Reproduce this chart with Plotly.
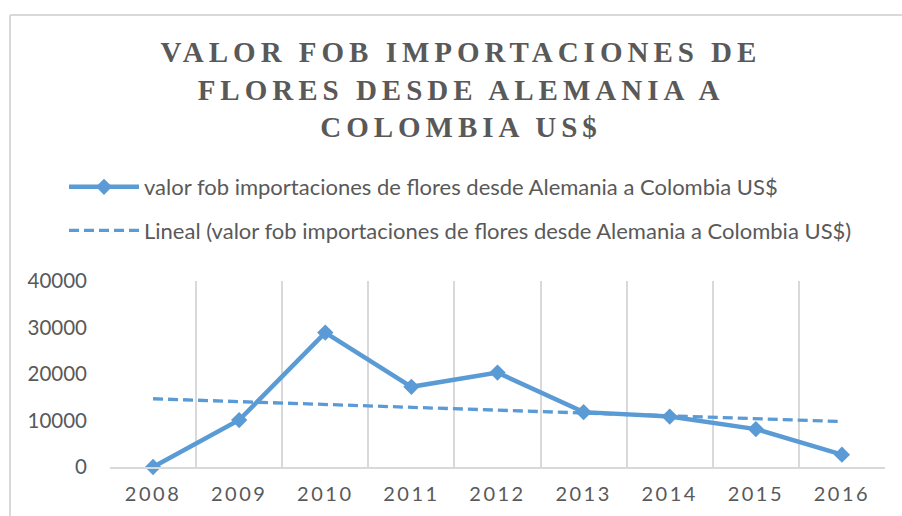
import numpy as np
import plotly.graph_objects as go

years = ["2008", "2009", "2010", "2011", "2012", "2013", "2014", "2015", "2016"]
valores = [0, 10100, 28900, 17250, 20300, 11800, 10850, 8150, 2650]
y_ticks = [0, 10000, 20000, 30000, 40000]

serie_name = "valor fob importaciones de flores desde Alemania a Colombia US$"
trend_name = "Lineal (valor fob importaciones de flores desde Alemania a Colombia US$)"
title_text = "VALOR FOB IMPORTACIONES DE<br>FLORES DESDE ALEMANIA A<br>COLOMBIA US$"

idx = np.arange(len(valores))
coef = np.polyfit(idx, valores, 1)
trend = np.polyval(coef, idx)

BLUE = "#5B9BD5"
GRAY = "#595959"
GRID = "#D9D9D9"

# plot area in pixels
L, R, T, B = 110, 17, 281, 49
W, H = 902, 516
pw, ph = W - L - R, H - T - B

def px_x(x):
    return (x - L) / pw

def px_y(y):
    return (H - B - y) / ph

fig = go.Figure()
fig.add_trace(go.Scatter(
    x=years, y=valores, name=serie_name, mode="lines+markers",
    line=dict(color=BLUE, width=4.5),
    marker=dict(symbol="diamond", size=12.5, color=BLUE),
    legendgroup="a", cliponaxis=False,
))
fig.add_trace(go.Scatter(
    x=years, y=trend, name=trend_name, mode="lines",
    line=dict(color=BLUE, width=3.3, dash="10px,5px"),
    legendgroup="b",
))

fig.update_layout(
    width=W, height=H,
    margin=dict(l=L, r=R, t=T, b=B),
    paper_bgcolor="white", plot_bgcolor="white",
    title=dict(
        text=title_text, x=461 / W, xanchor="center", xref="container",
        y=1 - 62 / H, yanchor="top", yref="container",
        font=dict(family="Liberation Serif", size=29, color=GRAY, weight="bold"),
    ),
    showlegend=True,
    legend=dict(
        x=px_x(64), y=px_y(166), xanchor="left", yanchor="top",
        xref="paper", yref="paper",
        font=dict(family="Lato", size=22, color=GRAY),
        itemwidth=70, tracegroupgap=12,
        bgcolor="rgba(0,0,0,0)",
    ),
    xaxis=dict(
        type="category", range=[-0.5, 8.5], tickson="boundaries",
        showgrid=True, gridcolor=GRID, gridwidth=1.5,
        showline=True, linecolor=GRID, linewidth=1.5,
        ticks="", tickfont=dict(family="Lato", size=20, color=GRAY),
        ticklabelstandoff=8, zeroline=False,
    ),
    yaxis=dict(
        range=[0, 40000], tickvals=y_ticks, ticktext=[str(v) for v in y_ticks],
        showgrid=False, showline=False, zeroline=False, ticks="",
        tickfont=dict(family="Lato", size=20.5, color=GRAY),
        ticklabelstandoff=22,
    ),
    shapes=[
        dict(type="line", xref="paper", yref="paper",
             x0=px_x(10), x1=px_x(910), y0=px_y(15), y1=px_y(15),
             line=dict(color=GRID, width=2)),
        dict(type="line", xref="paper", yref="paper",
             x0=px_x(10), x1=px_x(10), y0=px_y(15), y1=px_y(530),
             line=dict(color=GRID, width=2)),
    ],
)

post = """
document.body.style.margin='0';
document.querySelectorAll('.gtitle').forEach(function(e){e.setAttribute('letter-spacing','5px');});
document.querySelectorAll('.xtick text').forEach(function(e){e.setAttribute('letter-spacing','2.5px');});
"""
fig.write_html("out.html", post_script=post, config={"displayModeBar": False})
